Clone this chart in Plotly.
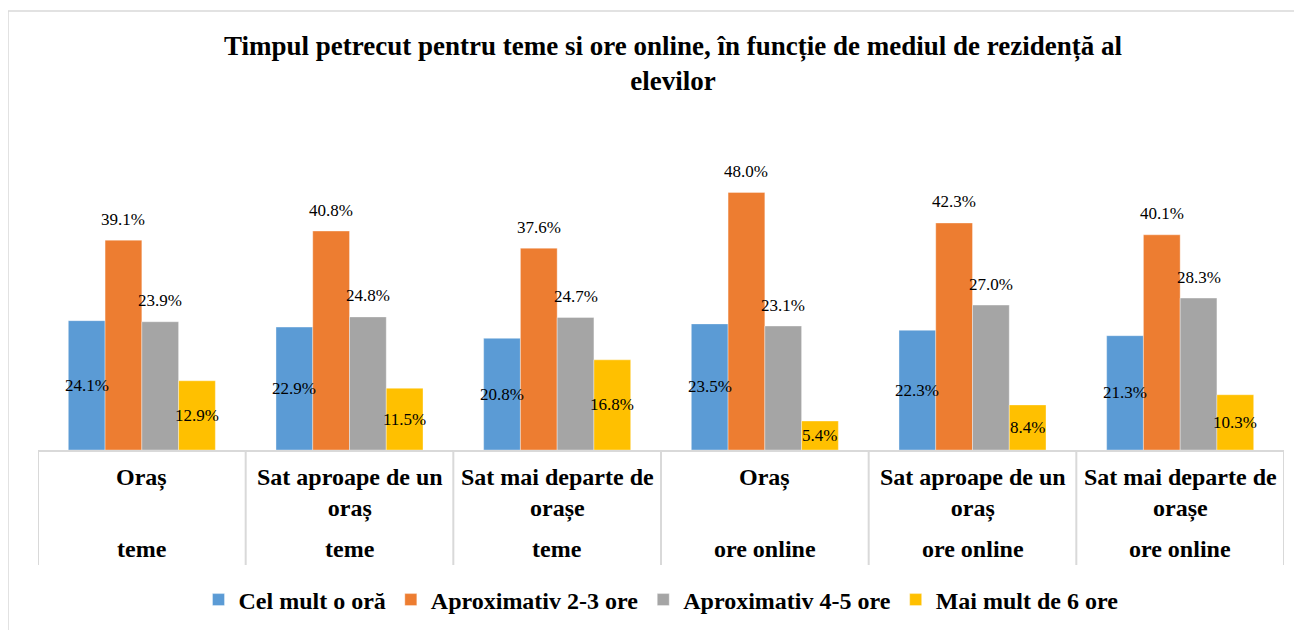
import textwrap
import plotly.graph_objects as go

# ---------------- data ----------------
groups = ["teme", "teme", "teme", "ore online", "ore online", "ore online"]
places = ["Oraș", "Sat aproape de un oraș", "Sat mai departe de orașe",
          "Oraș", "Sat aproape de un oraș", "Sat mai departe de orașe"]
series_names = ["Cel mult o oră", "Aproximativ 2-3 ore", "Aproximativ 4-5 ore", "Mai mult de 6 ore"]
cel_mult_o_ora = [24.1, 22.9, 20.8, 23.5, 22.3, 21.3]
aprox_2_3_ore = [39.1, 40.8, 37.6, 48.0, 42.3, 40.1]
aprox_4_5_ore = [23.9, 24.8, 24.7, 23.1, 27.0, 28.3]
peste_6_ore = [12.9, 11.5, 16.8, 5.4, 8.4, 10.3]
title_text = "Timpul petrecut pentru teme si ore online, în funcție de mediul de rezidență al<br>elevilor"

series_values = [cel_mult_o_ora, aprox_2_3_ore, aprox_4_5_ore, peste_6_ore]
colors = ["#5B9BD5", "#ED7D31", "#A5A5A5", "#FFC000"]
label_mode = ["center", "above", "above", "center"]

# ---------------- layout geometry ----------------
# the page body has an 8px margin, so figure px = screen px - 8
OFF = 8
W, H = 1302 - OFF, 630 - OFF
ML, MR = 38 - OFF, 18
MT = 128 - OFF
MB = H - (450 - OFF)
PW, PH = W - ML - MR, H - MT - MB
BARGAP = 0.292
FONT = "Liberation Serif"


def xp(sx):
    return (sx - OFF - ML) / PW


def yp(sy):
    return (H - MB - (sy - OFF)) / PH


x_idx = list(range(len(places)))
n_series = len(series_names)
bar_w = (1 - BARGAP) / n_series

fig = go.Figure()
for k, (name, vals, col) in enumerate(zip(series_names, series_values, colors)):
    fig.add_trace(go.Bar(
        x=x_idx, y=vals, name=name,
        marker=dict(color=col, line=dict(color="rgba(255,255,255,0.6)", width=0.6)),
        hoverinfo="y+name",
    ))

annotations = []
# data labels
for k, vals in enumerate(series_values):
    off = (k - (n_series - 1) / 2) * bar_w
    for i, v in enumerate(vals):
        if label_mode[k] == "center":
            ann = dict(x=i + off, y=v / 2, yanchor="middle", yshift=0)
        else:
            ann = dict(x=i + off, y=v, yanchor="middle", yshift=21)
        ann.update(xref="x", yref="y", text=f"{v:.1f}%", showarrow=False,
                   xanchor="center",
                   font=dict(family=FONT, size=17, color="#000000", weight="normal"))
        annotations.append(ann)

# category labels (two levels)
for i, (g, p) in enumerate(zip(groups, places)):
    annotations.append(dict(
        x=i, y=0, xref="x", yref="paper", yanchor="top", xanchor="center",
        yshift=-12, showarrow=False, align="center",
        text="<br>".join(textwrap.wrap(p, 18)),
        font=dict(family=FONT, size=24, color="#000000", weight="bold")))
    annotations.append(dict(
        x=i, y=0, xref="x", yref="paper", yanchor="top", xanchor="center",
        yshift=-84, showarrow=False,
        text=g, font=dict(family=FONT, size=24, color="#000000", weight="bold")))

shapes = []
grid_col = "#D9D9D9"
for i in range(len(places) + 1):
    shapes.append(dict(type="line", xref="x", yref="paper",
                       x0=i - 0.5, x1=i - 0.5, ysizemode="pixel", yanchor=0,
                       y0=0, y1=-115, line=dict(color=grid_col, width=2)))
# outer chart border (top and left visible)
shapes.append(dict(type="line", xref="paper", yref="paper",
                   x0=xp(8), x1=xp(1310), y0=yp(11), y1=yp(11),
                   line=dict(color=grid_col, width=1.5)))
shapes.append(dict(type="line", xref="paper", yref="paper",
                   x0=xp(8), x1=xp(8), y0=yp(11), y1=yp(640),
                   line=dict(color=grid_col, width=1.5)))

fig.update_layout(
    width=W, height=H,
    margin=dict(l=ML, r=MR, t=MT, b=MB, autoexpand=False),
    paper_bgcolor="white", plot_bgcolor="white",
    barmode="group", bargap=BARGAP, bargroupgap=0,
    title=dict(text=title_text, x=(673 - OFF) / W, xanchor="center",
               y=1 - 47 / H, yanchor="top",
               font=dict(family=FONT, size=27, color="#000000", weight="bold")),
    xaxis=dict(range=[-0.5, len(places) - 0.5], showticklabels=False, ticks="",
               showgrid=False, zeroline=False, showline=True,
               linecolor=grid_col, linewidth=2),
    yaxis=dict(range=[0, 60], visible=False, showgrid=False, zeroline=False),
    legend=dict(orientation="h", x=0.5, xanchor="center", y=yp(600), yanchor="middle",
                font=dict(family=FONT, size=24, color="#000000", weight="bold"),
                itemwidth=30, tracegroupgap=0, bgcolor="rgba(0,0,0,0)"),
    showlegend=True,
    annotations=annotations,
    shapes=shapes,
    font=dict(family=FONT),
)

fig.write_html("out.html")
